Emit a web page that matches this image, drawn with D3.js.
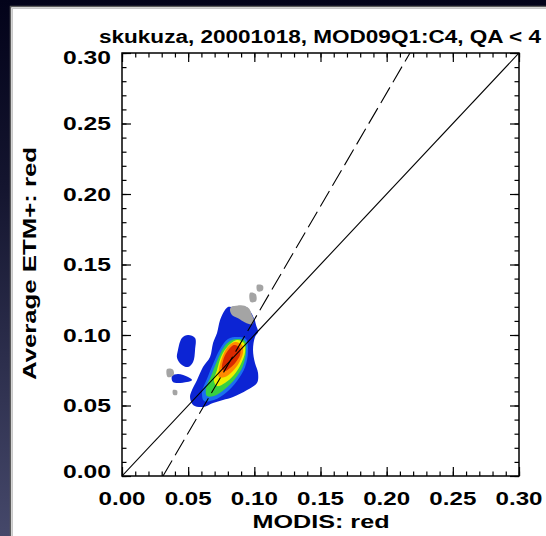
<!DOCTYPE html>
<html>
<head>
<meta charset="utf-8">
<script src="https://cdn.jsdelivr.net/npm/d3@7/dist/d3.min.js"></script>
<style>
  body { margin: 0; background: #05051c; }
  svg { display: block; }
</style>
</head>
<body>
<div id="chart"></div>
<script>
/////////////////////////////////////////////////////
///////////////////// Data //////////////////////////
/////////////////////////////////////////////////////

const titleText = "skukuza, 20001018, MOD09Q1:C4, QA < 4";
const xLabel = "MODIS: red";
const yLabel = "Average ETM+: red";

// major ticks and their labels (same on both axes)
const majorTicks = [0, 0.05, 0.10, 0.15, 0.20, 0.25, 0.30];
const tickLabels = ["0.00", "0.05", "0.10", "0.15", "0.20", "0.25", "0.30"];

// reference 1:1 line and the fitted (dashed) line, endpoints in data units
const oneToOneLine = [[0, 0], [0.30, 0.30]];
const fitLine = [[0.031, 0], [0.2176, 0.30]];

// density regions, outer (low count) to inner (high count)
const grayRegions = [
  [[0.0824,0.1199],[0.0877,0.1210],[0.0937,0.1203],[0.0960,0.1188],[0.0982,0.1142],[0.0997,0.1106],[0.0982,0.1075],[0.0930,0.1088],[0.0877,0.1118],[0.0831,0.1142],[0.0816,0.1177]],
  [[0.1020,0.1355],[0.1065,0.1350],[0.1062,0.1315],[0.1025,0.1310]],
  [[0.0967,0.1298],[0.1010,0.1290],[0.1013,0.1240],[0.0972,0.1234]],
  [[0.0340,0.0759],[0.0385,0.0755],[0.0390,0.0715],[0.0345,0.0702]],
  [[0.0385,0.0610],[0.0416,0.0606],[0.0414,0.0574],[0.0387,0.0577]]
];
const blueRegions = [
  [[0.0801,0.1199],[0.0824,0.1199],[0.0937,0.1199],[0.0997,0.1121],[0.1013,0.1071],[0.1028,0.1021],[0.1005,0.0986],[0.0990,0.0894],[0.1005,0.0801],[0.1028,0.0730],[0.1020,0.0660],[0.0945,0.0610],[0.0839,0.0560],[0.0763,0.0539],[0.0688,0.0518],[0.0612,0.0489],[0.0537,0.0504],[0.0514,0.0560],[0.0529,0.0610],[0.0567,0.0681],[0.0612,0.0773],[0.0665,0.0844],[0.0688,0.0943],[0.0718,0.1014],[0.0741,0.1106],[0.0778,0.1177]],
  [[0.0499,0.1000],[0.0453,0.0979],[0.0423,0.0894],[0.0416,0.0837],[0.0453,0.0787],[0.0499,0.0773],[0.0537,0.0809],[0.0552,0.0894],[0.0552,0.0979]],
  [[0.0378,0.0709],[0.0423,0.0723],[0.0499,0.0702],[0.0529,0.0681],[0.0491,0.0666],[0.0385,0.0666]]
];
const cyanRegions = [
  [[0.0869,0.0986],[0.0937,0.0972],[0.0952,0.0879],[0.0930,0.0773],[0.0869,0.0674],[0.0793,0.0596],[0.0695,0.0539],[0.0620,0.0532],[0.0605,0.0596],[0.0642,0.0688],[0.0688,0.0794],[0.0741,0.0901],[0.0801,0.0972]]
];
const greenRegions = [
  [[0.0869,0.0972],[0.0930,0.0957],[0.0937,0.0879],[0.0914,0.0780],[0.0854,0.0688],[0.0778,0.0617],[0.0695,0.0567],[0.0642,0.0567],[0.0635,0.0624],[0.0673,0.0709],[0.0718,0.0816],[0.0771,0.0915],[0.0816,0.0957]]
];
const yellowRegions = [
  [[0.0869,0.0965],[0.0922,0.0943],[0.0930,0.0879],[0.0899,0.0794],[0.0846,0.0716],[0.0778,0.0660],[0.0718,0.0638],[0.0695,0.0674],[0.0718,0.0752],[0.0748,0.0844],[0.0801,0.0922]]
];
const orangeRegions = [
  [[0.0854,0.0950],[0.0907,0.0929],[0.0914,0.0872],[0.0884,0.0801],[0.0831,0.0738],[0.0778,0.0702],[0.0733,0.0702],[0.0733,0.0759],[0.0756,0.0837],[0.0793,0.0908]]
];
const redRegions = [
  [[0.0846,0.0929],[0.0892,0.0908],[0.0892,0.0858],[0.0861,0.0809],[0.0816,0.0766],[0.0778,0.0745],[0.0756,0.0759],[0.0763,0.0816],[0.0793,0.0879]]
];

/////////////////////////////////////////////////////
///////////////////// Layout ////////////////////////
/////////////////////////////////////////////////////

const width = 546, height = 536;
const plot = { left: 122, right: 519, top: 53, bottom: 476 };
const font = "'Liberation Sans', Arial, Helvetica, sans-serif";

const svg = d3.select("#chart").append("svg")
  .attr("width", width)
  .attr("height", height);

// dark backdrop with a vertical gradient
const defs = svg.append("defs");
const grad = defs.append("linearGradient")
  .attr("id", "bg").attr("x1", 0).attr("y1", 0).attr("x2", 0).attr("y2", 1);
grad.append("stop").attr("offset", "0%").attr("stop-color", "#03031a");
grad.append("stop").attr("offset", "35%").attr("stop-color", "#14152f");
grad.append("stop").attr("offset", "100%").attr("stop-color", "#45486a");

svg.append("rect").attr("width", width).attr("height", height).attr("fill", "url(#bg)");

// white panel with a double gray edge
svg.append("rect")
  .attr("x", 10.5).attr("y", 6.5).attr("width", 600).attr("height", 600)
  .attr("fill", "#ffffff").attr("stroke", "#5a5a5a").attr("stroke-width", 1.5);
svg.append("rect")
  .attr("x", 12.5).attr("y", 8.5).attr("width", 600).attr("height", 600)
  .attr("fill", "none").attr("stroke", "#c8c8c8").attr("stroke-width", 1);

const x = d3.scaleLinear().domain([0, 0.30]).range([plot.left, plot.right]);
const y = d3.scaleLinear().domain([0, 0.30]).range([plot.bottom, plot.top]);

defs.append("clipPath").attr("id", "plotclip")
  .append("rect")
  .attr("x", plot.left).attr("y", plot.top)
  .attr("width", plot.right - plot.left).attr("height", plot.bottom - plot.top);

/////////////////////////////////////////////////////
///////////////////// Density ///////////////////////
/////////////////////////////////////////////////////

const area = d3.line()
  .x(d => x(d[0]))
  .y(d => y(d[1]))
  .curve(d3.curveCatmullRomClosed.alpha(0.5));

const layers = [
  { regions: blueRegions,   color: "#0c24d4" },
  { regions: grayRegions,   color: "#a4a4a4" },
  { regions: cyanRegions,   color: "#1a6ff0" },
  { regions: greenRegions,  color: "#38d040" },
  { regions: yellowRegions, color: "#eef000" },
  { regions: orangeRegions, color: "#ff8a00" },
  { regions: redRegions,    color: "#d82a00" }
];

const density = svg.append("g").attr("clip-path", "url(#plotclip)");
layers.forEach(layer => {
  density.append("g").selectAll("path")
    .data(layer.regions)
    .enter().append("path")
    .attr("d", area)
    .attr("fill", layer.color);
});

// 1:1 line and fitted dashed line
const line = d3.line().x(d => x(d[0])).y(d => y(d[1]));
const lines = svg.append("g").attr("clip-path", "url(#plotclip)");
lines.append("path").attr("d", line(oneToOneLine))
  .attr("stroke", "#000").attr("stroke-width", 1.1).attr("fill", "none");
lines.append("path").attr("d", line(fitLine))
  .attr("stroke", "#000").attr("stroke-width", 1.1).attr("fill", "none")
  .attr("stroke-dasharray", "18,6");

/////////////////////////////////////////////////////
///////////////////// Axes //////////////////////////
/////////////////////////////////////////////////////

const minorTicks = x.ticks(30);
const majorLen = 9, minorLen = 4.5;

function tickAxis(axisFn, scale, transform) {
  [[minorTicks, minorLen], [majorTicks, majorLen]].forEach(([values, len]) => {
    svg.append("g").attr("transform", transform)
      .call(axisFn(scale).tickValues(values).tickSizeInner(-len).tickSizeOuter(0).tickFormat(""))
      .call(g => g.select(".domain").remove())
      .call(g => g.selectAll("line").attr("stroke", "#000").attr("stroke-width", 1.2));
  });
}
tickAxis(d3.axisBottom, x, `translate(0,${plot.bottom})`);
tickAxis(d3.axisTop, x, `translate(0,${plot.top})`);
tickAxis(d3.axisLeft, y, `translate(${plot.left},0)`);
tickAxis(d3.axisRight, y, `translate(${plot.right},0)`);

svg.append("rect")
  .attr("x", plot.left).attr("y", plot.top)
  .attr("width", plot.right - plot.left).attr("height", plot.bottom - plot.top)
  .attr("fill", "none").attr("stroke", "#000").attr("stroke-width", 1.5);

// tick labels
svg.append("g").selectAll("text")
  .data(majorTicks)
  .enter().append("text")
  .attr("x", d => x(d))
  .attr("y", plot.bottom + 29)
  .attr("text-anchor", "middle")
  .attr("textLength", 47)
  .attr("lengthAdjust", "spacingAndGlyphs")
  .style("font-family", font).style("font-weight", "bold").style("font-size", "18px")
  .text((d, i) => tickLabels[i]);

// end labels sit a little inside the frame, like the original
const yLabelShift = (d, i) => i === 0 ? -5 : (i === majorTicks.length - 1 ? 4 : 0);
svg.append("g").selectAll("text")
  .data(majorTicks)
  .enter().append("text")
  .attr("x", plot.left - 59)
  .attr("y", (d, i) => y(d) + 6.5 + yLabelShift(d, i))
  .attr("textLength", 48)
  .attr("lengthAdjust", "spacingAndGlyphs")
  .style("font-family", font).style("font-weight", "bold").style("font-size", "18px")
  .text((d, i) => tickLabels[i]);

// title and axis titles
svg.append("text")
  .attr("x", 99).attr("y", 43)
  .attr("textLength", 442)
  .attr("lengthAdjust", "spacingAndGlyphs")
  .style("font-family", font).style("font-weight", "bold").style("font-size", "18px")
  .text(titleText);

svg.append("text")
  .attr("x", (plot.left + plot.right) / 2 - 68).attr("y", 528)
  .attr("textLength", 137)
  .attr("lengthAdjust", "spacingAndGlyphs")
  .style("font-family", font).style("font-weight", "bold").style("font-size", "19px")
  .text(xLabel);

svg.append("text")
  .attr("transform", "translate(36,380) rotate(-90)")
  .attr("textLength", 233)
  .attr("lengthAdjust", "spacingAndGlyphs")
  .style("font-family", font).style("font-weight", "bold").style("font-size", "19px")
  .text(yLabel);
</script>
</body>
</html>
